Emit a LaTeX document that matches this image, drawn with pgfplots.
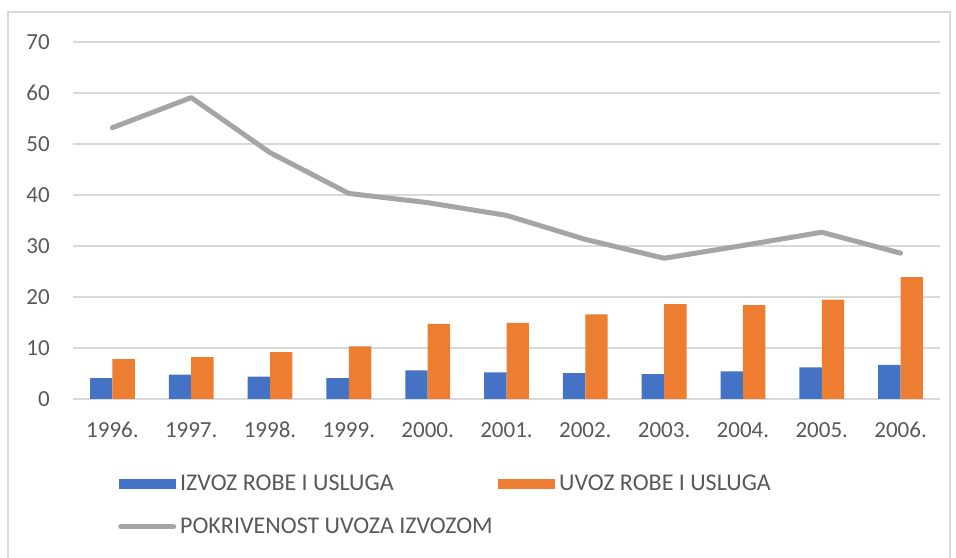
\documentclass[border=0pt]{standalone}
\usepackage{fontspec}
\setmainfont{Carlito}
\usepackage{pgfplots}
\pgfplotsset{compat=1.18}
\definecolor{cblue}{HTML}{4472C4}
\definecolor{corange}{HTML}{ED7D31}
\definecolor{cgray}{HTML}{A5A5A5}
\definecolor{ctext}{HTML}{595959}
\definecolor{cgrid}{HTML}{D9D9D9}
\begin{document}
\begin{tikzpicture}
\path[use as bounding box] (0pt,0pt) rectangle (956pt,557pt);
\draw[cgrid, line width=1.2pt] (8pt,-5pt) -- (8pt,545pt) -- (950pt,545pt) -- (950pt,-5pt);
\begin{axis}[
  at={(73pt,158pt)}, anchor=south west,
  scale only axis,
  width=867pt, height=357pt,
  xmin=-0.5, xmax=10.5,
  ymin=0, ymax=70,
  ytick={0,10,...,70},
  xtick={0,...,10},
  xticklabels={1996.,1997.,1998.,1999.,2000.,2001.,2002.,2003.,2004.,2005.,2006.},
  axis line style={draw=none},
  major tick length=0pt,
  ymajorgrids=true,
  grid style={cgrid, line width=1.3pt},
  tick label style={font=\fontsize{23}{27}\selectfont, text=ctext, inner sep=0pt},
  yticklabel style={anchor=base east, xshift=-23pt, yshift=-7.5pt},
  xticklabel style={anchor=base, yshift=-38pt},
  /pgf/number format/assume math mode=true,
  legend columns=2,
  legend style={at={(axis description cs:0,0)}, anchor=north west,
    xshift=45pt, yshift=-76pt, draw=none, inner sep=0pt,
    font=\fontsize{24}{28}\selectfont, text=ctext,
    row sep=26pt,
    /tikz/every odd column/.style={column sep=4pt},
    /tikz/every even column/.style={column sep=0pt},
    nodes={inner sep=0pt}},
  legend cell align=left,
  clip=false,
]
\addplot[ybar, bar width=22.4pt, bar shift=-11.2pt, fill=cblue, draw=none,
  legend image code/.code={\fill[cblue] (0pt,-5pt) rectangle (57pt,5pt);}]
coordinates {
  (0,4.1) (1,4.8) (2,4.4) (3,4.1) (4,5.6) (5,5.2)
  (6,5.05) (7,4.9) (8,5.4) (9,6.2) (10,6.7)
};
\addlegendentry{\makebox[318pt][l]{IZVOZ ROBE I USLUGA}}
\addplot[ybar, bar width=22.4pt, bar shift=11.2pt, fill=corange, draw=none,
  legend image code/.code={\fill[corange] (0pt,-5pt) rectangle (57pt,5pt);}]
coordinates {
  (0,7.8) (1,8.2) (2,9.2) (3,10.3) (4,14.75) (5,14.95)
  (6,16.6) (7,18.6) (8,18.4) (9,19.5) (10,23.9)
};
\addlegendentry{UVOZ ROBE I USLUGA}
\addplot[cgray, line width=5pt, line join=round, line cap=round, mark=none,
  legend image code/.code={\draw[cgray, line width=5pt, line cap=round] (2pt,0pt) -- (55pt,0pt);}]
coordinates {
  (0,53.2) (1,59.1) (2,48.3) (3,40.3) (4,38.5) (5,36.0)
  (6,31.3) (7,27.6) (8,30.1) (9,32.7) (10,28.6)
};
\addlegendentry{\makebox[318pt][l]{POKRIVENOST UVOZA IZVOZOM}}
\end{axis}
\end{tikzpicture}
\end{document}
